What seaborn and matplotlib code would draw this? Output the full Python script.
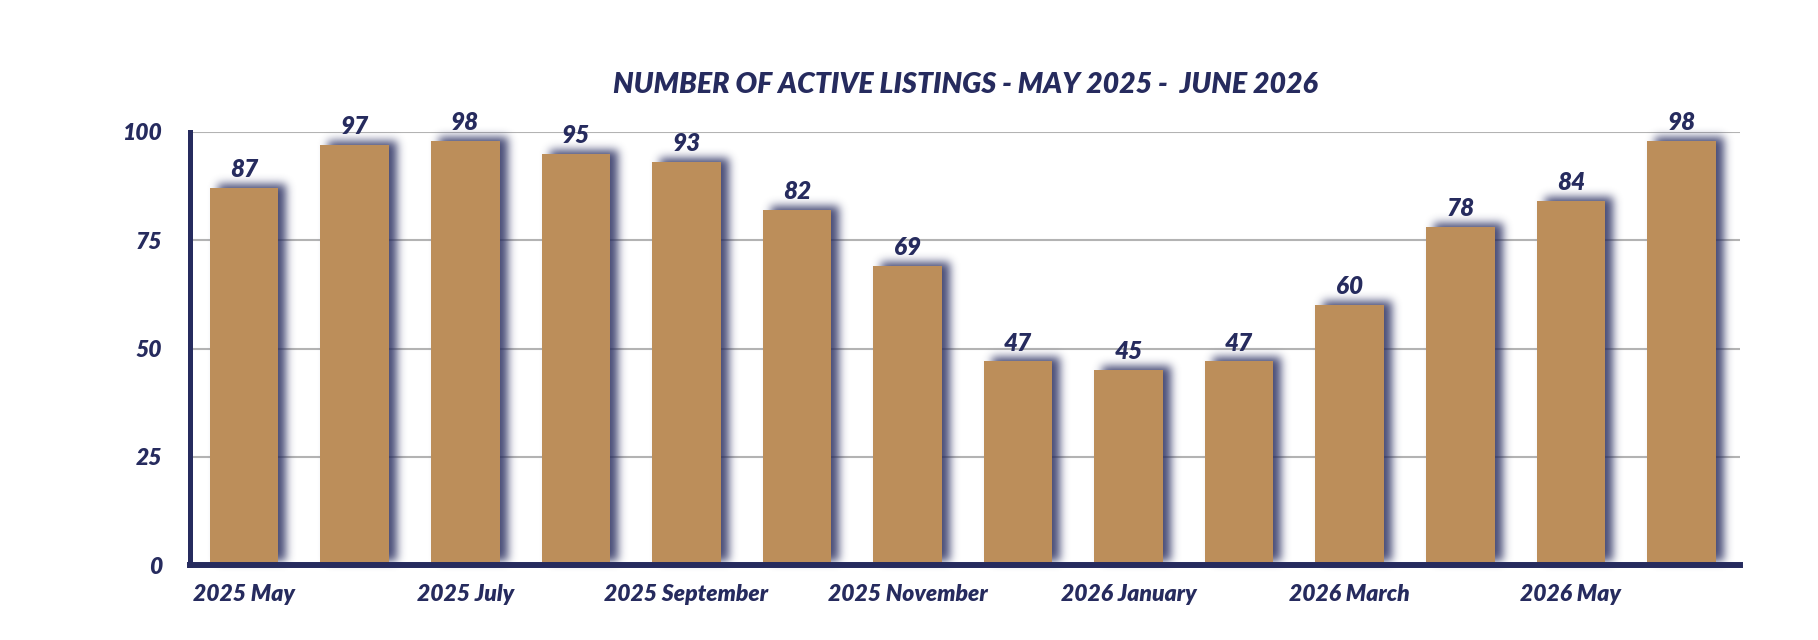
import numpy as np
import pandas as pd
import matplotlib
matplotlib.use("Agg")
import matplotlib.pyplot as plt
import matplotlib.colors as mcolors
import seaborn as sns

# ---- data ----
months = ["2025 May", "2025 June", "2025 July", "2025 August", "2025 September",
          "2025 October", "2025 November", "2025 December", "2026 January",
          "2026 February", "2026 March", "2026 April", "2026 May", "2026 June"]
listings = [87, 97, 98, 95, 93, 82, 69, 47, 45, 47, 60, 78, 84, 98]
y_ticks = [0, 25, 50, 75, 100]
title = "NUMBER OF ACTIVE LISTINGS - MAY 2025 -  JUNE 2026"

NAVY = "#262B5E"
GOLD = "#BC8E5A"
GRID = "#b3b3b3"
WEIGHT = "heavy"

df = pd.DataFrame({"month": months, "listings": listings})

sns.set_theme(style="white")
plt.rcParams["font.family"] = ["Lato", "DejaVu Sans"]
plt.rcParams["font.style"] = "italic"
plt.rcParams["font.weight"] = WEIGHT


class Shadow:
    def __init__(self, sigma, ox, oy, color, alpha):
        self.sigma = sigma
        self.ox = ox
        self.oy = oy
        self.rgb = mcolors.to_rgb(color)
        self.alpha = alpha

    def __call__(self, im, dpi):
        pad = int(self.sigma * 3)
        a = np.pad(im[:, :, 3], pad)
        r = np.arange(-pad, pad + 1)
        k = np.exp(-r ** 2 / (2 * self.sigma ** 2))
        k /= k.sum()
        a2 = np.pad(a, pad)
        tmp = np.zeros_like(a2)
        for i, kv in enumerate(k):
            tmp += kv * np.roll(a2, i - pad, axis=0)
        out_a = np.zeros_like(a2)
        for i, kv in enumerate(k):
            out_a += kv * np.roll(tmp, i - pad, axis=1)
        out_a = out_a[pad:-pad, pad:-pad]
        out = np.zeros(out_a.shape + (4,))
        out[..., 0] = self.rgb[0]
        out[..., 1] = self.rgb[1]
        out[..., 2] = self.rgb[2]
        out[..., 3] = np.clip(out_a * self.alpha, 0, 1)
        return out, -pad + self.ox, -pad + self.oy


fig = plt.figure(figsize=(18.18, 6.4), dpi=100)
ax = fig.add_axes([190 / 1818, 75 / 640, 1550 / 1818, 433 / 640])

# shadow bars
sns.barplot(data=df, x="month", y="listings", color=NAVY, saturation=1,
            width=0.62, ax=ax, zorder=1, linewidth=0)
shadow_patches = list(ax.patches)
for p in shadow_patches:
    p.set_agg_filter(Shadow(4.5, 8, 4, NAVY, 0.85))

# main bars
sns.barplot(data=df, x="month", y="listings", color=GOLD, saturation=1,
            width=0.62, ax=ax, zorder=2, linewidth=0)

ax.bar_label(ax.containers[-1], padding=5, fontsize=17.5, color=NAVY,
             fontweight=WEIGHT, fontstyle="italic")

ax.set_xlim(-0.49, 13.53)
ax.set_ylim(0, 100)
ax.set_yticks(y_ticks)
ax.set_xticks(range(len(months)))
ax.set_xticklabels([m if i % 2 == 0 else "" for i, m in enumerate(months)])
ax.set_xlabel("")
ax.set_ylabel("")

ax.yaxis.grid(True, color=GRID, linewidth=1.5)
ax.xaxis.grid(False)
ax.set_axisbelow(True)

for s in ["top", "right"]:
    ax.spines[s].set_visible(False)
ax.spines["left"].set_color(NAVY)
ax.spines["left"].set_linewidth(3.6)
ax.spines["bottom"].set_color(NAVY)
ax.spines["bottom"].set_linewidth(4.3)
ax.spines["left"].set_zorder(3)
ax.spines["bottom"].set_zorder(3)

ax.tick_params(axis="y", length=0, pad=20, labelsize=16.5, labelcolor=NAVY)
ax.tick_params(axis="x", length=0, pad=14, labelsize=16.5, labelcolor=NAVY)

fig.text(965 / 1818, 1 - 85 / 640, title, ha="center", va="center",
         fontsize=20.5, color=NAVY, fontweight=WEIGHT, fontstyle="italic")

fig.savefig("out.png", dpi=100, facecolor="white")
